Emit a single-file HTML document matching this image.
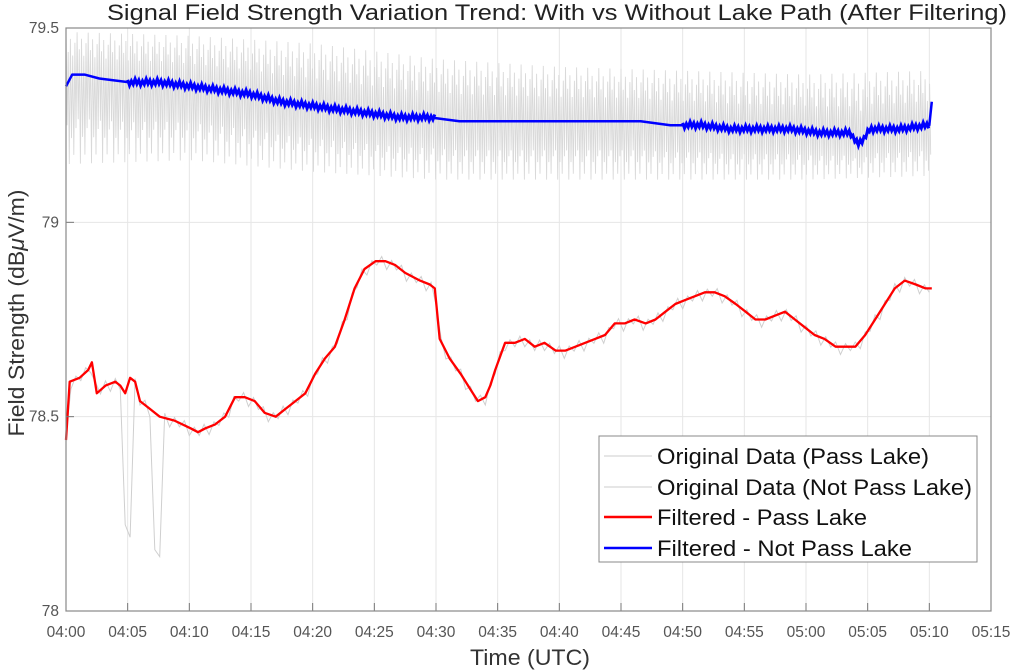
<!DOCTYPE html>
<html><head><meta charset="utf-8">
<style>
body{margin:0;background:#fff;}
svg{display:block;font-family:"Liberation Sans",Arial,sans-serif;}
</style></head>
<body>
<svg id="chart" width="1011" height="670" viewBox="0 0 1011 670">
<text x="557" y="20" text-anchor="middle" font-size="22" textLength="900" lengthAdjust="spacingAndGlyphs" fill="#222">Signal Field Strength Variation Trend: With vs Without Lake Path (After Filtering)</text>
<g id="grid"></g>
<g id="plot"></g>
<g id="axes"></g>
<text x="0" y="0" transform="translate(24,313) rotate(-90)" text-anchor="middle" font-size="22" textLength="247" lengthAdjust="spacingAndGlyphs" fill="#333">Field Strength (dB<tspan font-style="italic">μ</tspan>V/m)</text>
<text x="530" y="665" text-anchor="middle" font-size="22" textLength="120" lengthAdjust="spacingAndGlyphs" fill="#333">Time (UTC)</text>
<g>
<rect x="599" y="436" width="378" height="126" fill="#fff" stroke="#888" stroke-width="1"/>
<g><line x1="604" y1="456" x2="652" y2="456" stroke="#ccc" stroke-width="1"/><text x="657" y="464" font-size="22" textLength="272" lengthAdjust="spacingAndGlyphs" fill="#111">Original Data (Pass Lake)</text></g>
<g><line x1="604" y1="487" x2="652" y2="487" stroke="#ccc" stroke-width="1"/><text x="657" y="495" font-size="22" textLength="315" lengthAdjust="spacingAndGlyphs" fill="#111">Original Data (Not Pass Lake)</text></g>
<g><line x1="604" y1="517" x2="652" y2="517" stroke="#f00" stroke-width="2.5"/><text x="657" y="525" font-size="22" textLength="210" lengthAdjust="spacingAndGlyphs" fill="#111">Filtered - Pass Lake</text></g>
<g><line x1="604" y1="548" x2="652" y2="548" stroke="#00f" stroke-width="2.5"/><text x="657" y="556" font-size="22" textLength="255" lengthAdjust="spacingAndGlyphs" fill="#111">Filtered - Not Pass Lake</text></g>
</g>
</svg>
<script>
const xTickLabels=["04:00","04:05","04:10","04:15","04:20","04:25","04:30","04:35","04:40","04:45","04:50","04:55","05:00","05:05","05:10","05:15"];
const yTicks=[78,78.5,79,79.5];
const yTickLabels=["78","78.5","79","79.5"];
const redTimes=[0,0.3,1.1,1.8,2.1,2.5,3.2,4.0,4.4,4.8,5.2,5.6,6.0,6.8,7.6,8.8,10.1,10.7,11.3,12.1,12.9,13.7,14.5,15.3,16.1,17.0,17.8,18.6,19.4,20.2,21.0,21.8,22.6,23.4,24.2,25.1,25.9,26.7,27.5,28.7,29.5,29.9,30.3,31.1,32.0,32.8,33.4,34.0,34.4,34.8,35.6,36.4,37.2,38.0,38.8,39.7,40.5,41.3,42.1,42.9,43.7,44.5,45.3,46.1,47.0,47.8,48.6,49.4,50.2,51.0,51.8,52.6,53.4,54.3,55.1,55.9,56.7,57.5,58.3,59.1,59.9,60.7,61.5,62.4,63.2,64.0,64.8,65.6,66.4,67.2,68.0,68.9,69.7,70.2];
const redValues=[78.44,78.59,78.60,78.62,78.64,78.56,78.58,78.59,78.58,78.56,78.60,78.59,78.54,78.52,78.50,78.49,78.47,78.46,78.47,78.48,78.50,78.55,78.55,78.54,78.51,78.50,78.52,78.54,78.56,78.61,78.65,78.68,78.75,78.83,78.88,78.90,78.90,78.89,78.87,78.85,78.84,78.83,78.70,78.65,78.61,78.57,78.54,78.55,78.58,78.62,78.69,78.69,78.70,78.68,78.69,78.67,78.67,78.68,78.69,78.70,78.71,78.74,78.74,78.75,78.74,78.75,78.77,78.79,78.80,78.81,78.82,78.82,78.81,78.79,78.77,78.75,78.75,78.76,78.77,78.75,78.73,78.71,78.70,78.68,78.68,78.68,78.71,78.75,78.79,78.83,78.85,78.84,78.83,78.83];
const blueTimes=[0,0.5,1.5,2.7,5.2,7.6,10.1,12.5,14.9,17.4,19.8,22.2,24.7,27.1,29.5,31.9,34.4,36.8,39.3,41.7,44.1,46.6,49.0,51.4,53.9,56.3,58.7,61.2,63.6,64.2,64.8,65.2,67.6,70.0,70.2];
const blueValues=[79.35,79.38,79.38,79.37,79.36,79.36,79.35,79.34,79.33,79.31,79.30,79.29,79.28,79.27,79.27,79.26,79.26,79.26,79.26,79.26,79.26,79.26,79.25,79.25,79.24,79.24,79.24,79.23,79.23,79.20,79.22,79.24,79.24,79.25,79.31];
const blueNoisyRanges=[[5,30],[50,70]];
const envTimes=[0,10,20,30,40,50,60,70.2];
const envUpper=[79.49,79.48,79.46,79.42,79.40,79.39,79.38,79.39];
const envLower=[79.15,79.16,79.13,79.11,79.11,79.11,79.11,79.12];
const dropTimes=[[4.5,5.3],[6.9,7.7]];
const dropValues=[78.21,78.15];

const L=66,R=991,T=28,B=611;
const xs=m=>L+m*(R-L)/75;
const ys=v=>B-(v-78)*(B-T)/1.5;
const NS="http://www.w3.org/2000/svg";
function mk(tag,parent,attrs){const e=document.createElementNS(NS,tag);for(const k in attrs)e.setAttribute(k,attrs[k]);parent.appendChild(e);return e;}
const grid=document.getElementById('grid'),plot=document.getElementById('plot'),axes=document.getElementById('axes');
xTickLabels.forEach((t,i)=>{const x=xs(i*5);
 const g=mk('line',grid,{x1:x,x2:x,y1:T,y2:B,stroke:'#e6e6e6','stroke-width':1});
 
 const tk=mk('line',axes,{x1:x,x2:x,y1:B,y2:B-8,stroke:'#777','stroke-width':1});
 
 const tx=mk('text',axes,{x:x,y:B+26,'text-anchor':'middle','font-size':15.5,fill:'#555'});tx.textContent=t;
 });
yTicks.forEach((v,i)=>{const y=ys(v);
 const g=mk('line',grid,{x1:L,x2:R,y1:y,y2:y,stroke:'#e6e6e6','stroke-width':1});
 
 const tk=mk('line',axes,{x1:L,x2:L+8,y1:y,y2:y,stroke:'#777','stroke-width':1});
 
 const tx=mk('text',axes,{x:L-7,y:y+5,'text-anchor':'end','font-size':15.5,fill:'#555'});tx.textContent=yTickLabels[i];
 });
const box=mk('rect',axes,{x:L,y:T,width:R-L,height:B-T,fill:'none',stroke:'#888','stroke-width':1.2});


function interp(ts,vs,t){if(t<=ts[0])return vs[0];for(let i=1;i<ts.length;i++){if(t<=ts[i]){const f=(t-ts[i-1])/(ts[i]-ts[i-1]);return vs[i-1]+f*(vs[i]-vs[i-1]);}}return vs[vs.length-1];}
let d='';let k=0;
for(let t=0;t<=70.2;t+=0.18,k++){const u=interp(envTimes,envUpper,t),lo=interp(envTimes,envLower,t),c=interp(blueTimes,blueValues,t);
 const fu=[1,0.6,0.85,0.45,0.75][k%5],fl=[0.5,1,0.7,0.9,0.6][k%5];
 d+=(k?'L':'M')+xs(t).toFixed(1)+','+ys(c+(u-c)*fu).toFixed(1)+'L'+(xs(t)+1.1).toFixed(1)+','+ys(c-(c-lo)*fl).toFixed(1);}
const gb=mk('path',plot,{d:d,fill:'none',stroke:'#d9d9d9','stroke-width':0.9});

let d2='';k=0;
for(let t=0;t<=70.2;t+=0.4,k++){let v=interp(redTimes,redValues,t);
 dropTimes.forEach((r,j)=>{if(t>=r[0]&&t<=r[1])v=dropValues[j];});
 const off=[0.012,-0.02,0.008,-0.01][k%4];
 d2+=(k?'L':'M')+xs(t).toFixed(1)+','+ys(v+off).toFixed(1);}
const gr=mk('path',plot,{d:d2,fill:'none',stroke:'#cfcfcf','stroke-width':1});

const pr=mk('path',plot,{d:redTimes.map((t,i)=>(i?'L':'M')+xs(t).toFixed(1)+','+ys(redValues[i]).toFixed(1)).join(''),fill:'none',stroke:'#f00','stroke-width':2.3,'stroke-linejoin':'round'});

const pb=mk('path',plot,{d:blueTimes.map((t,i)=>(i?'L':'M')+xs(t).toFixed(1)+','+ys(blueValues[i]).toFixed(1)).join(''),fill:'none',stroke:'#00f','stroke-width':2.5,'stroke-linejoin':'round'});

blueNoisyRanges.forEach(r=>{let dd='';let i=0;for(let t=r[0];t<=r[1];t+=0.15,i++){const v=interp(blueTimes,blueValues,t)+[0.006,-0.008,0.004,-0.005,0.009,-0.004][i%6];dd+=(i?'L':'M')+xs(t).toFixed(1)+','+ys(v).toFixed(1);}
 const p=mk('path',plot,{d:dd,fill:'none',stroke:'#00f','stroke-width':3});
 });
</script>
</body></html>
